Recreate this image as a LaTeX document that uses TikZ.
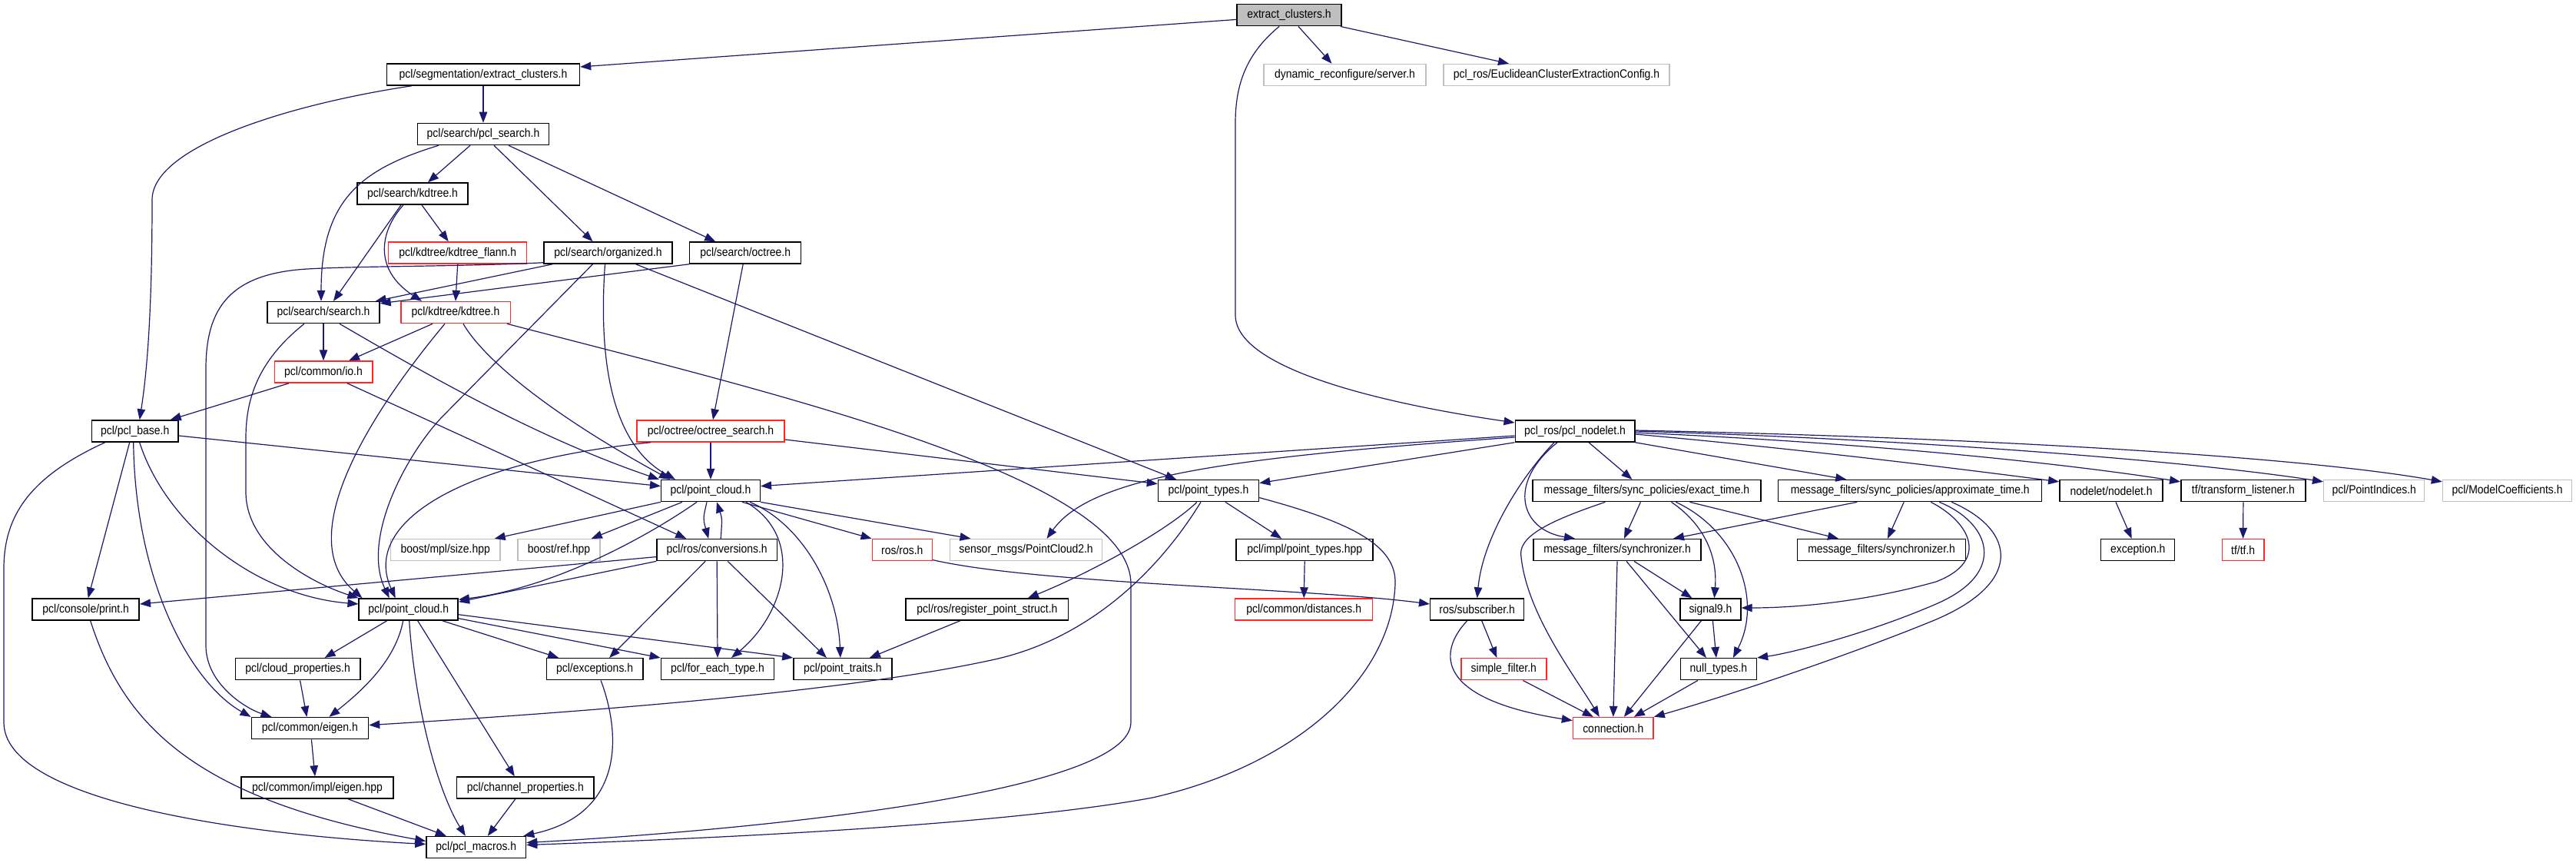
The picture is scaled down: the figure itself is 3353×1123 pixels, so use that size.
\documentclass[tikz,border=0pt]{standalone}
\usepackage{fontspec}
\setmainfont{Liberation Sans}[FakeStretch=0.9]
\usetikzlibrary{arrows.meta}
\definecolor{eblue}{RGB}{25,25,112}
\definecolor{gline}{RGB}{191,191,191}
\definecolor{rline}{RGB}{255,40,40}
\definecolor{tfill}{RGB}{191,191,191}
\tikzset{
  nbox/.style={draw=black, fill=white, line width=1.5pt, minimum height=28pt, inner sep=0pt, font=\fontsize{15.5}{17}\selectfont},
  rbox/.style={nbox, draw=rline},
  gbox/.style={nbox, draw=gline},
  tbox/.style={nbox, fill=tfill},
  dep/.style={draw=eblue, line width=1.2pt, -{Triangle[length=14pt,width=10.5pt]}}
}
\begin{document}
\begin{tikzpicture}[x=1pt,y=-1pt]
\useasboundingbox (0,0) rectangle (3353,1123);
\fill[white] (0,0) rectangle (3353,1123);
% nodes
\node[tbox, minimum width=136pt] (top) at (1678,19.7) {extract\_clusters.h};
\node[nbox, minimum width=251pt] (segx) at (629,97) {pcl/segmentation/extract\_clusters.h};
\node[gbox, minimum width=211pt] (dyn) at (1750.5,97.5) {dynamic\_reconfigure/server.h};
\node[gbox, minimum width=294pt] (euc) at (2026,97.5) {pcl\_ros/EuclideanClusterExtractionConfig.h};
\node[nbox, minimum width=171pt] (pcls) at (629,174.5) {pcl/search/pcl\_search.h};
\node[nbox, minimum width=144pt] (skd) at (537,252) {pcl/search/kdtree.h};
\node[rbox, minimum width=180pt] (flann) at (595.7,329) {pcl/kdtree/kdtree\_flann.h};
\node[nbox, minimum width=167pt] (org) at (791.5,329) {pcl/search/organized.h};
\node[nbox, minimum width=145pt] (soct) at (970.2,329) {pcl/search/octree.h};
\node[nbox, minimum width=146pt] (search) at (421,406.6) {pcl/search/search.h};
\node[rbox, minimum width=142.5pt] (kkd) at (593,406.6) {pcl/kdtree/kdtree.h};
\node[rbox, minimum width=127.5pt] (io) at (421,484) {pcl/common/io.h};
\node[nbox, minimum width=112.5pt] (base) at (175.7,561) {pcl/pcl\_base.h};
\node[rbox, minimum width=192pt] (ocs) at (925,561) {pcl/octree/octree\_search.h};
\node[nbox, minimum width=155.5pt] (nodelet) at (2050,561) {pcl\_ros/pcl\_nodelet.h};
\node[nbox, minimum width=128.6pt] (pc1) at (925,638.6) {pcl/point\_cloud.h};
\node[nbox, minimum width=131pt] (ptypes) at (1573,638.6) {pcl/point\_types.h};
\node[nbox, minimum width=297pt] (exact) at (2143.4,638.6) {message\_filters/sync\_policies/exact\_time.h};
\node[nbox, minimum width=343pt] (approx) at (2486.2,638.6) {message\_filters/sync\_policies/approximate\_time.h};
\node[nbox, minimum width=134.4pt] (nodeleth) at (2748,638.6) {nodelet/nodelet.h};
\node[nbox, minimum width=162.3pt] (tfl) at (2919.9,638.6) {tf/transform\_listener.h};
\node[gbox, minimum width=131pt] (pind) at (3090.2,638.6) {pcl/PointIndices.h};
\node[gbox, minimum width=168pt] (mcoef) at (3263.5,638.6) {pcl/ModelCoefficients.h};
\node[gbox, minimum width=142.5pt] (size) at (579.7,715.6) {boost/mpl/size.hpp};
\node[gbox, minimum width=107pt] (ref) at (727.5,715.6) {boost/ref.hpp};
\node[nbox, minimum width=156.4pt] (conv) at (933.2,715.6) {pcl/ros/conversions.h};
\node[rbox, minimum width=78pt] (rosh) at (1174.3,715.6) {ros/ros.h};
\node[gbox, minimum width=198pt] (pcl2) at (1335.5,715.6) {sensor\_msgs/PointCloud2.h};
\node[nbox, minimum width=178pt] (impl) at (1698.2,715.6) {pcl/impl/point\_types.hpp};
\node[nbox, minimum width=218pt] (syncL) at (2105,715.6) {message\_filters/synchronizer.h};
\node[nbox, minimum width=219pt] (syncR) at (2449,715.6) {message\_filters/synchronizer.h};
\node[nbox, minimum width=96pt] (exc2) at (2782.7,715.6) {exception.h};
\node[rbox, minimum width=54.6pt] (tf) at (2919.6,715.6) {tf/tf.h};
\node[nbox, minimum width=139pt] (print) at (111.7,793) {pcl/console/print.h};
\node[nbox, minimum width=129pt] (pc2) at (531.7,793) {pcl/point\_cloud.h};
\node[nbox, minimum width=211.6pt] (reg) at (1284.9,793) {pcl/ros/register\_point\_struct.h};
\node[rbox, minimum width=179pt] (dist) at (1697.2,793) {pcl/common/distances.h};
\node[nbox, minimum width=122pt] (sub) at (1922.7,793) {ros/subscriber.h};
\node[nbox, minimum width=79pt] (sig) at (2226.4,793) {signal9.h};
\node[nbox, minimum width=162.3pt] (cloudp) at (387.6,870.7) {pcl/cloud\_properties.h};
\node[nbox, minimum width=125.4pt] (exc) at (774.1,870.7) {pcl/exceptions.h};
\node[nbox, minimum width=147.3pt] (foreach) at (934,870.7) {pcl/for\_each\_type.h};
\node[nbox, minimum width=128pt] (traits) at (1096.9,870.7) {pcl/point\_traits.h};
\node[rbox, minimum width=111pt] (simple) at (1957.3,870.7) {simple\_filter.h};
\node[nbox, minimum width=99pt] (nullt) at (2236.9,870.7) {null\_types.h};
\node[nbox, minimum width=152.2pt] (eigen) at (403.4,947.6) {pcl/common/eigen.h};
\node[rbox, minimum width=104.5pt] (conn) at (2099.8,947.6) {connection.h};
\node[nbox, minimum width=198pt] (eimpl) at (413,1025) {pcl/common/impl/eigen.hpp};
\node[nbox, minimum width=178.4pt] (chan) at (683.8,1025) {pcl/channel\_properties.h};
\node[nbox, minimum width=129.6pt] (macros) at (619.8,1102.5) {pcl/pcl\_macros.h};
% edges
\draw[dep] ([yshift=-5.7pt]top.west) -- ([yshift=10pt]segx.east);
\draw[dep] ([xshift=12pt]top.south) -- ([xshift=-17pt]dyn.north);
\draw[dep] ([xshift=-2pt]top.south east) -- ([xshift=-62pt]euc.north);
\draw[dep] ([xshift=-13pt]top.south) .. controls (1622,70) and (1608,110) .. (1608,160) -- (1608,410) .. controls (1608,480) and (1800,525) .. ([yshift=11pt]nodelet.west);
\draw[dep] (segx.south) -- (pcls.north);
\draw[dep] ([xshift=-93pt]segx.south) .. controls (380,135) and (198,190) .. (198,260) .. controls (198,400) and (192,480) .. ([xshift=6pt]base.north);
\draw[dep] ([xshift=-58pt]pcls.south) .. controls (470,220) and (418,260) .. ([xshift=-3pt]search.north);
\draw[dep] ([xshift=-17pt]pcls.south) -- ([xshift=20pt]skd.north);
\draw[dep] ([xshift=14pt]pcls.south) -- ([xshift=-20pt]org.north);
\draw[dep] ([xshift=33pt]pcls.south) -- ([xshift=-39pt]soct.north);
\draw[dep] ([xshift=-15pt]skd.south) -- ([xshift=13pt]search.north);
\draw[dep] ([xshift=12pt]skd.south) -- ([xshift=-12pt]flann.north);
\draw[dep] ([xshift=-12pt]skd.south) .. controls (495,300) and (485,350) .. ([xshift=-44pt]kkd.north);
\draw[dep] (flann.south) -- (kkd.north);
\draw[dep] ([xshift=12pt]org.south west) -- ([xshift=-6pt]search.north east);
\draw[dep] ([yshift=2pt]org.south west) .. controls (600,347) and (470,346) .. (400,350) .. controls (300,356) and (268,400) .. (268,480) -- (268,840) .. controls (268,890) and (320,922) .. ([xshift=-50pt]eigen.north);
\draw[dep] ([xshift=-20pt]org.south) -- (575,543) .. controls (530,590) and (470,700) .. ([xshift=-25pt]pc2.north);
\draw[dep] ([xshift=-4pt]org.south) .. controls (778,480) and (800,580) .. ([xshift=19pt]pc1.north west);
\draw[dep] ([xshift=36pt]org.south) -- ([xshift=-42pt]ptypes.north);
\draw[dep] (soct.south west) -- ([yshift=-3pt]search.north east);
\draw[dep] ([xshift=-3pt]soct.south) -- ([xshift=3pt]ocs.north);
\draw[dep] (search.south) -- (io.north);
\draw[dep] ([xshift=-25pt]search.south) .. controls (335,470) and (320,520) .. (320,570) -- (320,640) .. controls (320,715) and (410,760) .. (pc2.north west);
\draw[dep] ([xshift=21pt]search.south) .. controls (560,490) and (700,570) .. ([xshift=-2pt]pc1.north west);
\draw[dep] ([xshift=-30pt]kkd.south) -- ([xshift=33pt]io.north);
\draw[dep] ([xshift=-14pt]kkd.south) .. controls (480,540) and (380,700) .. ([xshift=5pt]pc2.north west);
\draw[dep] ([xshift=10pt]kkd.south) .. controls (625,460) and (700,530) .. ([xshift=12pt]pc1.north west);
\draw[dep] ([xshift=-5pt]kkd.south east) .. controls (1000,510) and (1472,620) .. (1472,760) -- (1472,940) .. controls (1472,1040) and (900,1085) .. ([yshift=6pt]macros.east);
\draw[dep] ([xshift=-45pt]io.south) -- ([xshift=46pt]base.north);
\draw[dep] ([xshift=31pt]io.south) -- ([xshift=-40pt]conv.north);
\draw[dep] ([xshift=-7pt]base.south) -- ([xshift=3pt]print.north);
\draw[dep] ([xshift=-2pt]base.south) .. controls (176,760) and (250,890) .. (eigen.north west);
\draw[dep] ([xshift=6pt]base.south) .. controls (215,680) and (330,775) .. ([yshift=7pt]pc2.west);
\draw[dep] ([xshift=-39pt]base.south) .. controls (40,620) and (5,670) .. (5,740) -- (5,940) .. controls (5,1040) and (300,1085) .. ([yshift=4pt]macros.west);
\draw[dep] ([yshift=-6pt]base.east) -- ([yshift=6pt]pc1.west);
\draw[dep] (ocs.south) -- (pc1.north);
\draw[dep] ([xshift=-78pt]ocs.south) .. controls (600,600) and (470,680) .. ([xshift=-17pt]pc2.north);
\draw[dep] ([yshift=-11pt]ocs.east) -- ([yshift=9pt]ptypes.west);
\draw[dep] (pc1.south west) -- ([xshift=-8pt]size.north east);
\draw[dep] ([xshift=-37pt]pc1.south) -- ([xshift=-12pt]ref.north east);
\draw[dep] ([xshift=-5pt]pc1.south) .. controls (915,675) .. ([xshift=-11pt]conv.north);
\draw[dep] ([xshift=41pt]pc1.south) -- (rosh.north west);
\draw[dep] (pc1.south east) -- ([xshift=-72pt]pcl2.north);
\draw[dep] ([xshift=46pt]pc1.south) .. controls (1050,700) and (1020,800) .. ([xshift=18pt]foreach.north);
\draw[dep] ([xshift=51pt]pc1.south) .. controls (1040,680) and (1090,760) .. ([xshift=-3pt]traits.north);
\draw[dep] ([xshift=-18pt]pc1.south) .. controls (840,700) and (720,765) .. ([yshift=-2pt]pc2.north east);
\draw[dep] ([xshift=5pt]conv.north) .. controls (940,675) .. ([xshift=8pt]pc1.south);
\draw[dep] ([yshift=-9pt]conv.west) -- ([yshift=7pt]print.east);
\draw[dep] (conv.south west) -- ([yshift=-5pt]pc2.north east);
\draw[dep] ([xshift=-15pt]conv.south) -- ([xshift=19pt]exc.north);
\draw[dep] (conv.south) -- (foreach.north);
\draw[dep] ([xshift=14pt]conv.south) -- ([xshift=-21pt]traits.north);
\draw[dep] ([yshift=-13pt]rosh.east) .. controls (1350,760) and (1700,765) .. ([yshift=7pt]sub.west);
\draw[dep] ([xshift=-15pt]ptypes.south) .. controls (1520,690) and (1420,745) .. ([xshift=53pt]reg.north);
\draw[dep] ([xshift=-10pt]ptypes.south) .. controls (1510,740) and (1420,830) .. (1295,858) .. controls (1150,890) and (900,918) .. ([yshift=4pt]eigen.east);
\draw[dep] ([xshift=22pt]ptypes.south) -- ([xshift=-30pt]impl.north);
\draw[dep] ([yshift=-9pt]ptypes.east) .. controls (1760,680) and (1818,710) .. (1816,760) .. controls (1812,880) and (1690,995) .. (1500,1038) .. controls (1300,1075) and (900,1092) .. ([yshift=3pt]macros.east);
\draw[dep] (impl.south) -- (dist.north);
\draw[dep] ([xshift=-35pt]reg.south) -- ([xshift=35pt]traits.north);
\draw[dep] ([xshift=6pt]print.south) .. controls (160,940) and (250,1040) .. ([yshift=8pt]macros.west);
\draw[dep] ([xshift=-28pt]pc2.south) -- ([xshift=35pt]cloudp.north);
\draw[dep] ([xshift=-7pt]pc2.south) .. controls (515,860) and (470,900) .. ([xshift=25pt]eigen.north);
\draw[dep] ([xshift=1pt]pc2.south) .. controls (540,920) and (570,1030) .. ([xshift=-14pt]macros.north);
\draw[dep] ([xshift=12pt]pc2.south) -- ([xshift=-14pt]chan.north);
\draw[dep] ([xshift=44pt]pc2.south) -- ([xshift=-47pt]exc.north);
\draw[dep] ([yshift=3pt]pc2.south east) -- (foreach.north west);
\draw[dep] ([yshift=8pt]pc2.south east) -- (traits.north west);
\draw[dep] ([xshift=3pt]cloudp.south) -- ([xshift=-4pt]eigen.north);
\draw[dep] ([xshift=2pt]eigen.south) -- ([xshift=-3pt]eimpl.north);
\draw[dep] ([xshift=40pt]eimpl.south) -- ([xshift=-39pt]macros.north);
\draw[dep] ([xshift=-13pt]chan.south) -- ([xshift=15pt]macros.north);
\draw[dep] ([xshift=8pt]exc.south) .. controls (810,960) and (810,1060) .. ([xshift=-4pt]macros.north east);
\draw[dep] ([yshift=-6pt]nodelet.west) -- ([yshift=6pt]pc1.east);
\draw[dep] ([yshift=-8pt]nodelet.west) .. controls (1600,595) and (1420,620) .. ([xshift=27pt]pcl2.north);
\draw[dep] (nodelet.south west) -- ([yshift=10pt]ptypes.east);
\draw[dep] ([xshift=-27pt]nodelet.south) .. controls (1980,620) and (1930,700) .. (sub.north);
\draw[dep] ([xshift=-23pt]nodelet.south) .. controls (1960,630) and (1980,690) .. ([xshift=-55pt]syncL.north);
\draw[dep] ([xshift=18pt]nodelet.south) -- ([xshift=-19pt]exact.north);
\draw[dep] (nodelet.south east) -- ([xshift=-83pt]approx.north);
\draw[dep] ([yshift=-4pt]nodelet.east) .. controls (2350,585) and (2550,610) .. ([yshift=-3pt]nodeleth.north west);
\draw[dep] ([yshift=-2pt]nodelet.east) .. controls (2450,577) and (2700,605) .. ([yshift=-3pt]tfl.north west);
\draw[dep] (nodelet.east) .. controls (2500,572) and (2850,600) .. ([yshift=-3pt]pind.north west);
\draw[dep] ([yshift=1pt]nodelet.east) .. controls (2600,570) and (3000,595) .. ([yshift=-3pt]mcoef.north west);
\draw[dep] ([xshift=-54pt]exact.south) .. controls (2010,680) and (1975,700) .. (1980,725) .. controls (1988,800) and (2050,880) .. ([xshift=-18pt]conn.north);
\draw[dep] ([xshift=-8pt]exact.south) -- ([xshift=9pt]syncL.north);
\draw[dep] ([xshift=32pt]exact.south) .. controls (2215,680) and (2236,720) .. ([xshift=5pt]sig.north);
\draw[dep] ([xshift=38pt]exact.south) .. controls (2260,690) and (2295,780) .. ([xshift=19pt]nullt.north);
\draw[dep] ([xshift=56pt]exact.south) -- ([xshift=-56pt]syncR.north);
\draw[dep] ([xshift=-69pt]approx.south) -- ([xshift=73pt]syncL.north);
\draw[dep] ([xshift=-8pt]approx.south) -- ([xshift=8pt]syncR.north);
\draw[dep] ([xshift=27pt]approx.south) .. controls (2565,680) and (2590,730) .. (2520,757) .. controls (2420,785) and (2330,791) .. ([yshift=2pt]sig.east);
\draw[dep] ([xshift=38pt]approx.south) .. controls (2590,680) and (2615,745) .. (2520,786) .. controls (2430,825) and (2330,850) .. (nullt.north east);
\draw[dep] ([xshift=54pt]approx.south) .. controls (2625,690) and (2635,760) .. (2513,809) .. controls (2400,855) and (2250,905) .. (conn.north east);
\draw[dep] (syncL.south) -- (conn.north);
\draw[dep] ([xshift=12pt]syncL.south) -- ([xshift=-16pt]nullt.north);
\draw[dep] ([xshift=22pt]syncL.south) -- ([xshift=-24pt]sig.north);
\draw[dep] ([xshift=-12pt]sig.south) -- ([xshift=14pt]conn.north);
\draw[dep] ([xshift=3pt]sig.south) -- ([xshift=-3pt]nullt.north);
\draw[dep] ([xshift=-27pt]nullt.south) -- ([xshift=27pt]conn.north);
\draw[dep] ([xshift=-13pt]sub.south) .. controls (1870,850) and (1870,910) .. ([yshift=10pt]conn.west);
\draw[dep] ([xshift=6pt]sub.south) -- ([xshift=-9pt]simple.north);
\draw[dep] ([xshift=25pt]simple.south) -- ([xshift=-26pt]conn.north);
\draw[dep] ([xshift=6pt]nodeleth.south) -- ([xshift=-8pt]exc2.north);
\draw[dep] (tfl.south) -- (tf.north);
\end{tikzpicture}
\end{document}
